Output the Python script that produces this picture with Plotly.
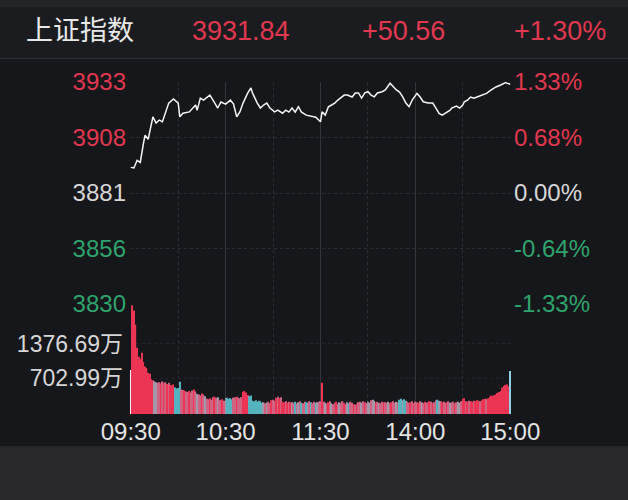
import plotly.graph_objects as go

# ---------------- data ----------------
title_name = "上证指数"
last_price = "3931.84"
change_abs = "+50.56"
change_pct = "+1.30%"

axis_low, axis_high = 3829.66, 3932.90
price_ticks = [3829.66, 3855.47, 3881.28, 3907.09, 3932.90]
price_labels = ["3830", "3856", "3881", "3908", "3933"]
pct_labels = ["-1.33%", "-0.64%", "0.00%", "0.68%", "1.33%"]
tick_sign = [-1, -1, 0, 1, 1]

time_ticks = [0, 60, 120, 180, 240]
time_labels = ["09:30", "10:30", "11:30", "14:00", "15:00"]
half_hour_ticks = [30, 90, 150, 210]

vol_ticks = [702.99, 1376.69]
vol_labels = ["702.99万", "1376.69万"]
vol_max = 2155

price_minute = [0, 2, 4, 6, 8, 9, 11, 14, 16, 18, 20, 22, 24, 27, 30, 31, 33, 37, 39, 41,
                42, 44, 46, 49, 50, 52, 55, 57, 60, 63, 65, 67, 69, 71, 74, 76, 77, 80, 82, 84,
                86, 88, 91, 93, 96, 98, 100, 102, 104, 106, 108, 111, 115, 117, 120, 121, 123, 125, 127, 129,
                131, 134, 135, 137, 140, 142, 144, 146, 148, 150, 152, 154, 156, 159, 161, 164, 166, 168, 170, 172,
                174, 176, 178, 181, 183, 185, 188, 191, 193, 195, 197, 200, 202, 203, 206, 208, 210, 211, 213, 215,
                217, 219, 222, 225, 228, 231, 234, 237, 240]
price_value = [3893.2, 3892.9, 3896.5, 3895.5, 3904.4, 3908.1, 3906.3, 3916.7, 3913.8, 3915.2,
               3914.4, 3918.4, 3923.1, 3925.0, 3923.1, 3916.7, 3918.4, 3919.0, 3920.8, 3922.2,
               3919.8, 3925.4, 3924.5, 3926.0, 3926.8, 3924.5, 3920.8, 3923.6, 3922.6, 3924.5,
               3922.6, 3916.7, 3919.0, 3923.1, 3927.8, 3930.1, 3927.8, 3923.1, 3920.8, 3922.2,
               3923.1, 3920.8, 3919.0, 3919.8, 3918.4, 3919.8, 3918.9, 3920.8, 3918.9, 3921.4,
               3918.9, 3917.5, 3916.7, 3916.5, 3914.4, 3919.0, 3917.5, 3921.4, 3922.2, 3923.1,
               3924.5, 3926.0, 3926.8, 3926.8, 3925.9, 3927.8, 3927.8, 3925.4, 3927.8, 3928.4,
               3926.8, 3926.0, 3927.8, 3928.4, 3929.2, 3932.3, 3930.6, 3929.2, 3928.2, 3926.0,
               3923.1, 3921.4, 3924.5, 3927.6, 3925.9, 3923.7, 3923.1, 3923.1, 3920.8, 3918.3,
               3917.5, 3919.0, 3919.8, 3920.8, 3921.7, 3920.8, 3922.2, 3923.7, 3924.5, 3925.9,
               3925.4, 3925.9, 3926.8, 3927.6, 3929.2, 3930.6, 3931.5, 3932.6, 3931.84]

# volume per minute (万)
volume = [860, 2130, 2030, 1750, 1300, 1120, 1080, 1200, 1020, 930,
          900, 810, 790, 680, 660, 640, 620, 610, 620, 600,
          640, 610, 620, 590, 610, 570, 560, 580, 520, 500,
          510, 630, 480, 470, 460, 440, 430, 450, 420, 460,
          480, 440, 390, 380, 360, 400, 380, 350, 300, 290,
          310, 280, 330, 340, 320, 330, 280, 270, 290, 260,
          310, 320, 300, 310, 290, 320, 330, 340, 320, 310,
          330, 430, 450, 420, 370, 350, 360, 260, 250, 270,
          240, 260, 250, 220, 230, 210, 220, 240, 210, 270,
          280, 260, 320, 340, 310, 330, 240, 230, 250, 220,
          240, 230, 230, 220, 240, 210, 230, 250, 220, 210,
          240, 230, 220, 250, 230, 210, 240, 220, 230, 240,
          250, 610, 240, 220, 200, 230, 250, 210, 190, 220,
          240, 200, 230, 210, 250, 220, 190, 230, 210, 240,
          220, 190, 180, 200, 230, 240, 220, 250, 230, 210,
          240, 220, 270, 280, 260, 230, 240, 220, 210, 240,
          230, 230, 220, 240, 210, 230, 250, 220, 240, 230,
          280, 300, 270, 290, 260, 240, 220, 230, 250, 210,
          240, 230, 220, 250, 230, 210, 240, 220, 230, 250,
          240, 220, 230, 270, 280, 260, 250, 230, 240, 220,
          230, 250, 220, 230, 240, 210, 230, 240, 220, 250,
          300, 310, 250, 240, 260, 250, 240, 260, 250, 270,
          260, 250, 270, 290, 300, 290, 310, 340, 360, 350,
          370, 380, 410, 430, 450, 520, 550, 570, 580, 540,
          840]

# bar colour codes: r=up red, p=muted red, g=grey-blue, t=teal down, w=open, b=close
volume_code = ("wrrrrrrrrr" "rrrrrggppr" "prprprrrtt" "ttpprpprpp" "rpgpprpgpp"
               "rpprpgpprp" "gttttpprpp" "prrrrttttt" "ttttgpgppr" "pprprprrpr"
               "prgptpgptp" "ptgptpptgp" "prpgprpgpp" "rpgpprpgtp" "prprppgprp"
               "ggpggrpgpp" "rppgprppgp" "ttgttpprpr" "pprpgprppr" "prpptgprpp"
               "rpgpprpggp" "rrprprrprr" "rprrrprrrr" "rrrrrrrrrr" "b")

# ---------------- styling ----------------
W, H = 628, 500
RED = "#e0384f"
GREEN = "#2fa36d"
WHITE = "#d6d6d6"
BG = "#16171b"
code_color = {"r": "#ec3554", "p": "#cf6482", "g": "#a497aa", "t": "#55b3c0",
              "w": "#f4f4f4", "b": "#8fd0e6"}
bar_colors = [code_color[c] for c in volume_code]

def sign_color(s):
    return RED if s > 0 else (GREEN if s < 0 else WHITE)

left_text = [f'<span style="color:{sign_color(s)}">{t}</span>' for t, s in zip(price_labels, tick_sign)]
right_text = [f'<span style="color:{sign_color(s)}">{t}</span>' for t, s in zip(pct_labels, tick_sign)]

px_x = lambda v: v / W
px_y = lambda v: 1 - v / H

FONT = "Liberation Sans, Arial, Noto Sans CJK SC, sans-serif"

fig = go.Figure()
fig.add_trace(go.Bar(x=list(range(len(volume))), y=volume, marker=dict(color=bar_colors, line=dict(width=0)),
                     xaxis="x2", yaxis="y3", hoverinfo="skip"))
fig.add_trace(go.Scatter(x=price_minute, y=price_value, mode="lines",
                         line=dict(color="#f5f5f5", width=1.5), xaxis="x", yaxis="y", hoverinfo="skip"))
fig.add_trace(go.Scatter(x=price_minute, y=price_value, mode="lines", opacity=0,
                         xaxis="x", yaxis="y2", hoverinfo="skip"))

grid_solid = "#34353b"
grid_dot = "#2c2d33"
xcommon = dict(domain=[px_x(130), px_x(511)], range=[-0.5, len(volume) - 0.5],
               tickvals=time_ticks, showgrid=True, gridcolor=grid_solid, gridwidth=1,
               zeroline=False, showline=False, ticks="", fixedrange=True, automargin=False,
               minor=dict(tickvals=half_hour_ticks, showgrid=True, gridcolor=grid_dot,
                          griddash="dot", gridwidth=1))

fig.update_layout(
    width=W, height=H, margin=dict(l=0, r=0, t=0, b=0, autoexpand=False), autosize=False,
    paper_bgcolor=BG, plot_bgcolor=BG, showlegend=False, bargap=0.18,
    font=dict(family=FONT, color=WHITE),
    xaxis=dict(**xcommon, anchor="y", showticklabels=False),
    xaxis2=dict(**xcommon, anchor="y3", matches="x", showticklabels=True, ticktext=time_labels,
                tickfont=dict(size=24, color="#e4e4e4"), ticklabelstandoff=1),
    yaxis=dict(domain=[px_y(304), px_y(82)], range=[axis_low, axis_high], tickvals=price_ticks,
               ticktext=left_text, tickfont=dict(size=24), showgrid=True, gridcolor=grid_dot,
               griddash="dot", zeroline=False, ticks="", side="left", ticklabelstandoff=3,
               fixedrange=True, automargin=False),
    yaxis2=dict(domain=[px_y(304), px_y(82)], range=[axis_low, axis_high], tickvals=price_ticks,
                ticktext=right_text, tickfont=dict(size=24), overlaying="y", side="right",
                anchor="x", showgrid=False, zeroline=False, ticks="", ticklabelstandoff=2,
                fixedrange=True, automargin=False),
    yaxis3=dict(domain=[px_y(414), px_y(304)], range=[0, vol_max], tickvals=vol_ticks,
                ticktext=vol_labels, tickfont=dict(size=23, color=WHITE), showgrid=True,
                gridcolor="#222328", griddash="dot", zeroline=False, ticks="", anchor="x2",
                ticklabelstandoff=6, fixedrange=True, automargin=False),
)

shapes = [
    dict(type="rect", xref="paper", yref="paper", x0=0, x1=1, y0=px_y(7), y1=1,
         fillcolor="#232428", line=dict(width=0), layer="below"),
    dict(type="rect", xref="paper", yref="paper", x0=0, x1=1, y0=px_y(58), y1=px_y(7),
         fillcolor="#1b1c20", line=dict(width=0), layer="below"),
    dict(type="line", xref="paper", yref="paper", x0=0, x1=1, y0=px_y(58.5), y1=px_y(58.5),
         line=dict(color="#2a2b30", width=1.5), layer="below"),
    dict(type="rect", xref="paper", yref="paper", x0=0, x1=1, y0=0, y1=px_y(446),
         fillcolor="#28282c", line=dict(width=0), layer="below"),
]
fig.update_layout(shapes=shapes)

header = [
    (title_name, 24, "left", "#e8e8e8"),
    (last_price, 190, "left", RED),
    (change_abs, 360, "left", RED),
    (change_pct, 608, "right", RED),
]
for text, x, anchor, color in header:
    fig.add_annotation(text=text, xref="paper", yref="paper", x=px_x(x), y=px_y(31),
                       xanchor=anchor, yanchor="middle", showarrow=False,
                       font=dict(size=27, color=color, family=FONT))

fig.write_html("out.html", config={"displayModeBar": False, "responsive": False},
               post_script="document.body.style.margin='0';document.body.style.overflow='hidden';"
                           "document.documentElement.style.background='" + BG + "';")
